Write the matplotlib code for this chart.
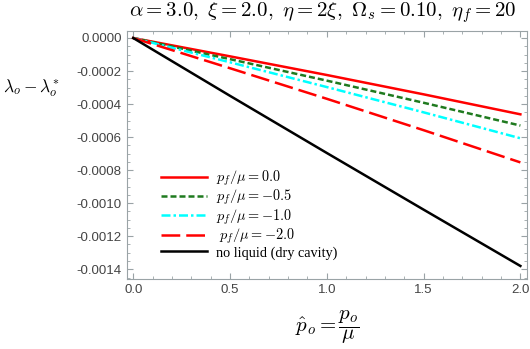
import matplotlib
matplotlib.use('Agg')
import matplotlib.pyplot as plt
from matplotlib.ticker import MultipleLocator, FormatStrFormatter

plt.rcParams['mathtext.fontset'] = 'cm'
plt.rcParams['font.family'] = ['Liberation Sans', 'DejaVu Sans']

# pressure values and curves
p_hat = [0.0, 0.5, 1.0, 1.5, 2.0]
pf_0 = [0.0, -0.000111, -0.000224, -0.000341, -0.000462]
pf_05 = [0.0, -0.000128, -0.000258, -0.000392, -0.000530]
pf_10 = [0.0, -0.000147, -0.000297, -0.000450, -0.000607]
pf_20 = [0.0, -0.000183, -0.000368, -0.000558, -0.000753]
dry = [0.0, -0.000350, -0.000696, -0.001039, -0.001380]

labels = [r'$p_f/\mu = 0.0$', r'$p_f/\mu = -0.5$', r'$p_f/\mu = -1.0$',
          r'$\;p_f/\mu = -2.0$', 'no liquid (dry cavity)']

frame_col = '#9aa3a6'
tick_col = '#444444'

fig = plt.figure(figsize=(5.3, 3.49), dpi=100)
ax = fig.add_axes([0.240, 0.201, 0.755, 0.710])

ax.plot(p_hat, pf_0, color='#ff0000', lw=1.8, label=labels[0])
ax.plot(p_hat, pf_05, color='#1f7a1f', lw=1.8, ls=(0, (2.4, 1.2)), label=labels[1])
ax.plot(p_hat, pf_10, color='#00ffff', lw=1.8, ls=(0, (3.6, 1.2, 1.0, 1.2)), label=labels[2])
ax.plot(p_hat, pf_20, color='#ff0000', lw=1.8, ls=(0, (7.5, 2.4)), label=labels[3])
ax.plot(p_hat, dry, color='black', lw=1.8, label=labels[4])

ax.set_xlim(-0.031, 2.036)
ax.set_ylim(-0.001458, 0.000042)
ax.xaxis.set_major_locator(MultipleLocator(0.5))
ax.xaxis.set_minor_locator(MultipleLocator(0.1))
ax.yaxis.set_major_locator(MultipleLocator(0.0002))
ax.yaxis.set_minor_locator(MultipleLocator(0.00005))
ax.xaxis.set_major_formatter(FormatStrFormatter('%.1f'))
ax.yaxis.set_major_formatter(FormatStrFormatter('%.4f'))

for s in ax.spines.values():
    s.set_color(frame_col)
ax.tick_params(which='both', direction='in', top=True, right=True,
               color=frame_col, labelcolor=tick_col, labelsize=9.5)
ax.tick_params(which='major', length=4, pad=4)
ax.tick_params(which='minor', length=2)

fig.text(0.608, 0.963,
         r'$\alpha = 3.0,\ \xi = 2.0,\ \eta = 2\xi,\ \Omega_s = 0.10,\ \eta_f = 20$',
         fontsize=15, ha='center', va='center')
fig.text(0.006, 0.748, r'$\lambda_o - \lambda_o^{*}$', fontsize=12.5, va='center', ha='left')
fig.text(0.617, 0.063, r'$\hat{p}_o = \dfrac{p_o}{\mu}$', fontsize=15, va='center', ha='center')

leg = ax.legend(loc='lower left', bbox_to_anchor=(0.085, 0.078), frameon=False,
                borderaxespad=0, borderpad=0,
                prop={'family': 'Liberation Serif', 'size': 10.3}, handlelength=3.2,
                labelspacing=0.0, handletextpad=0.6)

fig.savefig('out.png', dpi=100)
